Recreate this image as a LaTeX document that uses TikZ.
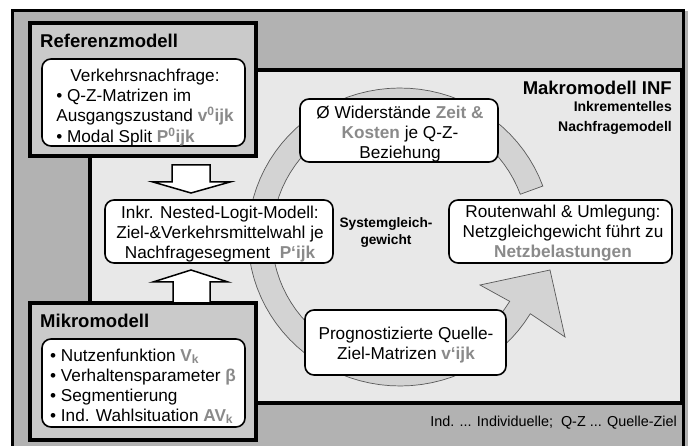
\documentclass[tikz,border=0pt]{standalone}
\usepackage{fontspec}
\setmainfont{Liberation Sans}
\definecolor{outergray}{HTML}{B2B2B2}
\definecolor{modgray}{HTML}{CACACA}
\definecolor{makrogray}{HTML}{E8E8E8}
\definecolor{bandgray}{HTML}{D3D3D3}
\definecolor{hlgray}{HTML}{8A8A8A}
\newcommand\grb[1]{\textcolor{hlgray}{\bfseries #1}}
\begin{document}
\begin{tikzpicture}[x=1pt,y=-1pt,
  modframe/.style={draw=black, line width=3.5pt, inner sep=0pt, outer sep=0pt},
  wbox/.style={draw=black, fill=white, rounded corners=9pt, line width=1.6pt, inner sep=0pt},
  txt/.style={font=\fontsize{17.2}{20}\selectfont, align=center, inner sep=0pt},
  ttl/.style={font=\bfseries\fontsize{18.5}{22}\selectfont, inner sep=0pt},
  blockarrow/.style={draw=black, fill=white, line width=1.5pt, line join=miter},
  band/.style={fill=bandgray, draw=black!65, line width=0.7pt}
]
\useasboundingbox (0,0) rectangle (688,446);
% outer frame
\fill[outergray] (12,11) rectangle (700,460);
\draw[line width=3pt] (12,460) -- (12,11) -- (683.5,11) -- (683.5,460);
% Makromodell frame
\node[modframe, fill=makrogray, minimum width=592pt, minimum height=333pt] (makro) at (386,236.5) {};
% circular band arrow
\draw[band] plot[domain=20:329, samples=80, variable=\t] ({400+152*cos(\t)}, {237-149*sin(\t)})
  -- (565,337) -- (550,270) -- (480,285)
  -- plot[domain=329:20, samples=80, variable=\t] ({400+128*cos(\t)}, {237-125*sin(\t)}) -- cycle;
% Referenzmodell and Mikromodell frames
\node[modframe, fill=modgray, minimum width=226pt, minimum height=133pt] (ref) at (143,89.5) {};
\node[modframe, fill=modgray, minimum width=226pt, minimum height=137pt] (mikro) at (143,371.5) {};
\node[ttl, anchor=west] (reftitle) at (40,41) {Referenzmodell};
\node[ttl, anchor=west] (mikrotitle) at (40,321) {Mikromodell};
% block arrows
\draw[blockarrow] (172,165) -- (210,165) -- (210,182) -- (230,182) -- (191,193) -- (153,182) -- (172,182) -- cycle;
\draw[blockarrow] (173,303) -- (173,282) -- (153,282) -- (191,270) -- (228,282) -- (210,282) -- (210,303) -- cycle;
% white boxes
\node[wbox, minimum width=203pt, minimum height=87pt] (refbox) at (143.5,102.5) {};
\node[txt, anchor=center] (reftext) at (145,108) {\begin{tabular}{@{}l@{}}
\multicolumn{1}{@{}c@{}}{Verkehrsnachfrage:}\\
• Q-Z-Matrizen im\\
Ausgangszustand \grb{v\textsuperscript{0}ijk}\\
• Modal Split \grb{P\textsuperscript{0}ijk}
\end{tabular}};
\node[wbox, minimum width=203pt, minimum height=88pt] (mikrobox) at (143.5,383) {};
\node[txt] (mikrotext) at (143,387) {\begin{tabular}{@{}l@{}}
• Nutzenfunktion \grb{V\textsubscript{k}}\\
• Verhaltensparameter \grb{β}\\
• Segmentierung\\
• Ind. Wahlsituation \grb{AV\textsubscript{k}}
\end{tabular}};
\node[wbox, minimum width=228pt, minimum height=63pt] (logit) at (219,231.5) {};
\node[txt] (logittext) at (220,234) {Inkr. Nested-Logit-Modell:\\Ziel-\&Verkehrsmittelwahl je\\Nachfragesegment\ \ \grb{P‘ijk}};
\node[wbox, minimum width=198pt, minimum height=63pt] (wid) at (399,130.5) {};
\node[txt] (widtext) at (400,134) {Ø Widerstände \grb{Zeit \&}\\\grb{Kosten} je Q-Z-\\Beziehung};
\node[wbox, minimum width=223pt, minimum height=63pt] (route) at (560.5,231.5) {};
\node[txt] (routetext) at (563,233.5) {Routenwahl \& Umlegung:\\Netzgleichgewicht führt zu\\\grb{Netzbelastungen}};
\node[wbox, minimum width=201pt, minimum height=65pt] (prog) at (405.5,342.5) {};
\node[txt] (progtext) at (406,345.5) {Prognostizierte Quelle-\\Ziel-Matrizen \grb{v‘ijk}};
% labels
\node[font=\bfseries\fontsize{13.7}{17}\selectfont, align=center, inner sep=0pt] (sysgg) at (386,232) {Systemgleich-\\gewicht};
\node[ttl, anchor=east] (makrotitle) at (672,88) {Makromodell INF};
\node[font=\bfseries\fontsize{14}{20}\selectfont, align=right, inner sep=0pt, anchor=east] (makrosub) at (672,118) {Inkrementelles\\Nachfragemodell};
\node[font=\fontsize{14.4}{17}\selectfont, inner sep=0pt, anchor=east] (footer) at (677,423) {Ind. ... Individuelle;\ \ Q-Z ... Quelle-Ziel};
\end{tikzpicture}
\end{document}
